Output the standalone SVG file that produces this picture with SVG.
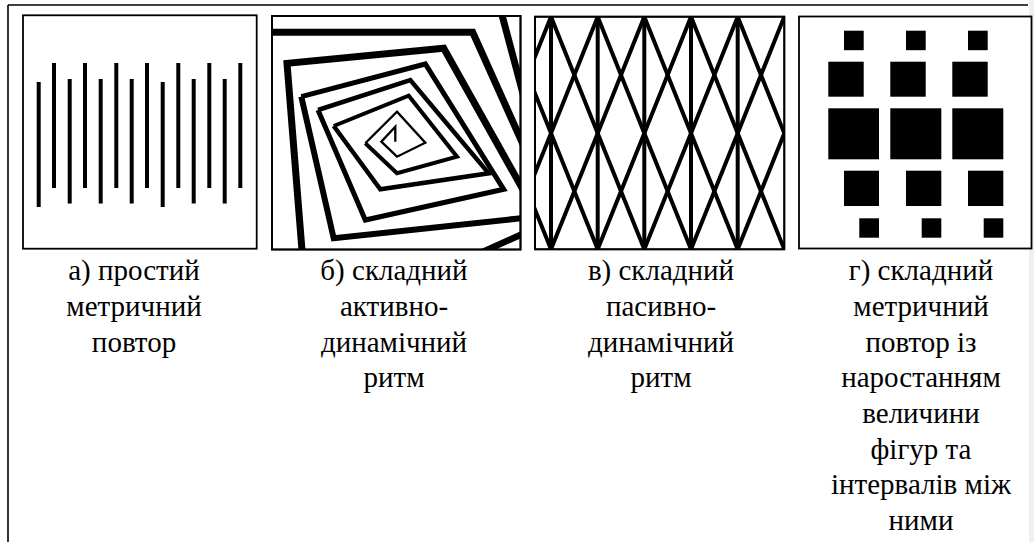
<svg xmlns="http://www.w3.org/2000/svg" width="1034" height="542" viewBox="0 0 1034 542">
<style>
.frame{fill:none;stroke:#000;stroke-width:1.6}
.panel{fill:#fff;stroke:#000;stroke-width:1.8}
.bar{stroke:#000;stroke-width:4;fill:none}
.sp{fill:none;stroke:#000;stroke-linejoin:miter;stroke-miterlimit:10}
.lbl{font-size:29px;fill:#000;text-anchor:middle}
.sq{fill:#000}
</style>
<defs>
<clipPath id="clipB"><rect x="272" y="16" width="248.5" height="233.5"/></clipPath>
<clipPath id="clipC"><rect x="535" y="16.7" width="249.3" height="232.6"/></clipPath>
</defs>
<rect x="0" y="0" width="1034" height="542" fill="#fff"/>
<rect x="1029" y="0" width="5" height="542" fill="#f0f0f0"/>
<g id="frame">
<line class="frame" x1="8" y1="5" x2="1028" y2="5"/>
<line class="frame" x1="8" y1="5" x2="8" y2="542"/>
</g>
<g id="panel-a">
<rect class="panel" x="23" y="15.3" width="233.7" height="233.4"/>
<g class="bar">
<line x1="38.7" y1="82" x2="38.7" y2="207"/>
<line x1="54" y1="63" x2="54" y2="188"/>
<line x1="69.7" y1="79" x2="69.7" y2="203.5"/>
<line x1="85" y1="63" x2="85" y2="188"/>
<line x1="100.7" y1="79" x2="100.7" y2="203.5"/>
<line x1="116.3" y1="63" x2="116.3" y2="188"/>
<line x1="131.7" y1="79" x2="131.7" y2="203.5"/>
<line x1="147" y1="63" x2="147" y2="188"/>
<line x1="162.7" y1="82" x2="162.7" y2="207"/>
<line x1="178.3" y1="63" x2="178.3" y2="188"/>
<line x1="193.7" y1="79" x2="193.7" y2="203.5"/>
<line x1="209.3" y1="63" x2="209.3" y2="188"/>
<line x1="224.7" y1="79" x2="224.7" y2="203.5"/>
<line x1="240.3" y1="63" x2="240.3" y2="188"/>
</g>
</g>
<g id="panel-b">
<rect class="panel" x="272" y="16" width="248.5" height="233.5"/>
<g clip-path="url(#clipB)">
<polyline class="sp" stroke-width="7" points="498,0 526,105"/>
<polyline class="sp" stroke-width="6.5" points="478,254 530,230.5"/>
<polyline class="sp" stroke-width="7" points="266,32.3 472.7,32.3 526,151"/>
<polyline class="sp" stroke-width="7" points="302.3,254 287,63.3 443.7,48.3 526,195"/>
<polyline class="sp" stroke-width="6" points="526,217.7 333.7,238.3 301.3,96.7"/>
<polyline class="sp" stroke-width="5" points="301.3,96.7 425.3,64 503.7,189.3 365.3,220 318,110"/>
<polyline class="sp" stroke-width="4.5" points="318,110 410.3,80 488.7,173.3 380.3,189.3 333.7,126"/>
<polyline class="sp" stroke-width="4" points="333.7,126 408.7,95.7 457,156.7 397,173.3 365.3,143.3"/>
<polyline class="sp" stroke-width="2.3" points="365.3,143.3 397,111.7 425.3,142.7 397,156.7 381.3,141.7 395.3,126.7 395.3,141.7"/>
</g>
<rect x="272" y="16" width="248.5" height="233.5" fill="none" stroke="#000" stroke-width="1.8"/>
</g>
<g id="panel-c">
<rect class="panel" x="535" y="16.7" width="249.3" height="232.6"/>
<g clip-path="url(#clipC)">
<g class="bar">
<line x1="551" y1="16" x2="551" y2="250"/>
<line x1="597.7" y1="16" x2="597.7" y2="250"/>
<line x1="644.3" y1="16" x2="644.3" y2="250"/>
<line x1="691" y1="16" x2="691" y2="250"/>
<line x1="737.7" y1="16" x2="737.7" y2="250"/>
</g>
<g class="sp" stroke-width="4">
<polyline points="504.3,16.7 551,133.3 504.3,249.3"/>
<polyline points="551,16.7 504.3,133.3 551,249.3"/>
<polyline points="551,16.7 597.7,133.3 551,249.3"/>
<polyline points="597.7,16.7 551,133.3 597.7,249.3"/>
<polyline points="597.7,16.7 644.3,133.3 597.7,249.3"/>
<polyline points="644.3,16.7 597.7,133.3 644.3,249.3"/>
<polyline points="644.3,16.7 691,133.3 644.3,249.3"/>
<polyline points="691,16.7 644.3,133.3 691,249.3"/>
<polyline points="691,16.7 737.7,133.3 691,249.3"/>
<polyline points="737.7,16.7 691,133.3 737.7,249.3"/>
<polyline points="737.7,16.7 784.3,133.3 737.7,249.3"/>
<polyline points="784.3,16.7 737.7,133.3 784.3,249.3"/>
</g>
</g>
<rect x="535" y="16.7" width="249.3" height="232.6" fill="none" stroke="#000" stroke-width="1.8"/>
</g>
<g id="panel-d">
<rect class="panel" x="799" y="16.5" width="232.5" height="232"/>
<g class="sq">
<rect x="844" y="30.7" width="19.7" height="19.5"/>
<rect x="906" y="30.7" width="19.7" height="19.5"/>
<rect x="968" y="30.7" width="19.7" height="19.5"/>
<rect x="828.3" y="61.7" width="35.4" height="35"/>
<rect x="890.3" y="61.7" width="35.4" height="35"/>
<rect x="952.3" y="61.7" width="35.4" height="35"/>
<rect x="828.3" y="108.3" width="50.7" height="51"/>
<rect x="890.3" y="108.3" width="51" height="51"/>
<rect x="952.3" y="108.3" width="51" height="51"/>
<rect x="844" y="170.7" width="35" height="35.3"/>
<rect x="906" y="170.7" width="35.3" height="35.3"/>
<rect x="968" y="170.7" width="35.3" height="35.3"/>
<rect x="859.3" y="218.3" width="19.7" height="19.4"/>
<rect x="921.7" y="218.3" width="19.6" height="19.4"/>
<rect x="983.7" y="218.3" width="19.6" height="19.4"/>
</g>
</g>
<g id="label-a" class="lbl" font-family="'Times New Roman', 'Liberation Serif', 'DejaVu Serif', serif">
<text x="134" y="280">а) простий</text>
<text x="134" y="316">метричний</text>
<text x="134" y="351.5">повтор</text>
</g>
<g id="label-b" class="lbl" font-family="'Times New Roman', 'Liberation Serif', 'DejaVu Serif', serif">
<text x="394" y="280">б) складний</text>
<text x="394" y="316">активно-</text>
<text x="394" y="351.5">динамічний</text>
<text x="394" y="387">ритм</text>
</g>
<g id="label-c" class="lbl" font-family="'Times New Roman', 'Liberation Serif', 'DejaVu Serif', serif">
<text x="661" y="280">в) складний</text>
<text x="661" y="316">пасивно-</text>
<text x="661" y="351.5">динамічний</text>
<text x="661" y="387">ритм</text>
</g>
<g id="label-d" class="lbl" font-family="'Times New Roman', 'Liberation Serif', 'DejaVu Serif', serif">
<text x="921" y="280">г) складний</text>
<text x="921" y="316">метричний</text>
<text x="921" y="351.5">повтор із</text>
<text x="921" y="387">наростанням</text>
<text x="921" y="423">величини</text>
<text x="921" y="458.5">фігур та</text>
<text x="921" y="494">інтервалів між</text>
<text x="921" y="530">ними</text>
</g>
</svg>
